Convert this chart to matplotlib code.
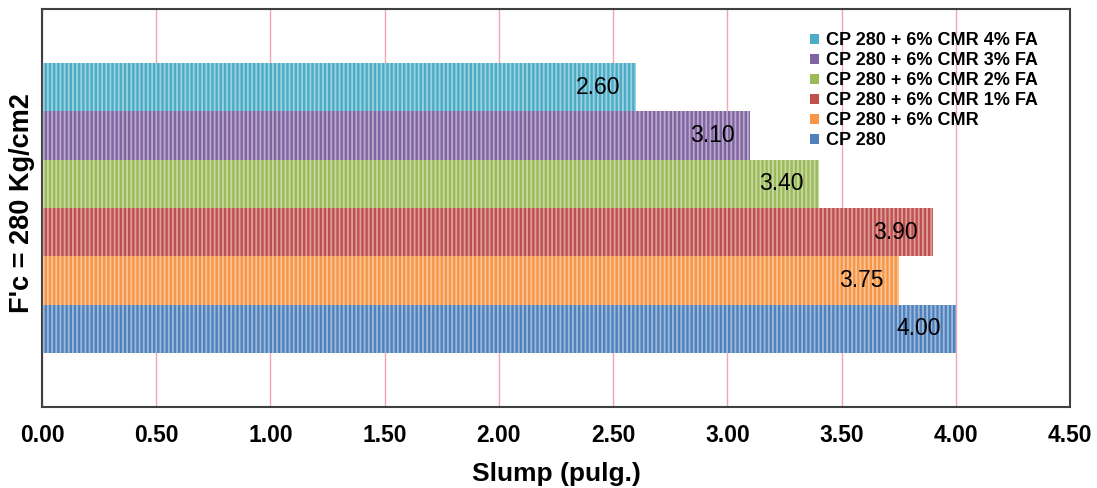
import matplotlib.pyplot as plt
from matplotlib.patches import Patch

plt.rcParams['font.family'] = ['Liberation Sans', 'DejaVu Sans']
plt.rcParams['hatch.linewidth'] = 1.3

# datos (de abajo hacia arriba)
labels = ["CP 280", "CP 280 + 6% CMR", "CP 280 + 6% CMR 1% FA",
          "CP 280 + 6% CMR 2% FA", "CP 280 + 6% CMR 3% FA", "CP 280 + 6% CMR 4% FA"]
slump = [4.00, 3.75, 3.90, 3.40, 3.10, 2.60]
colors = ["#4F81BD", "#F79646", "#C0504D", "#9BBB59", "#8064A2", "#4BACC6"]
xticks = [0.0, 0.5, 1.0, 1.5, 2.0, 2.5, 3.0, 3.5, 4.0, 4.5]

fig = plt.figure(figsize=(10.97, 4.88), dpi=100)
ax = fig.add_axes([0.0383, 0.166, 0.9371, 0.8156])

ypos = list(range(len(slump)))
ax.barh(ypos, slump, height=1.0, color=colors, linewidth=0, zorder=2)
# rayado vertical claro
ax.barh(ypos, slump, height=1.0, color="none", edgecolor=(1, 1, 1, 0.45),
        hatch="||||", linewidth=0, zorder=3)

for y, v in zip(ypos, slump):
    ax.annotate(f"{v:.2f}", xy=(v, y), xytext=(-11, 0), textcoords="offset points",
                ha="right", va="center", fontsize=16.5, color="#000000", zorder=4)

ax.set_xlim(0, 4.5)
ax.set_ylim(-1.617, 6.617)
ax.set_xticks(xticks)
ax.set_xticklabels([f"{t:.2f}" for t in xticks], fontsize=16.5, fontweight="bold")
ax.set_yticks([])
ax.tick_params(axis="x", length=0, pad=12)
ax.xaxis.grid(True, color="#F2A5AE", linewidth=1.0, zorder=0)
ax.set_axisbelow(True)
for s in ax.spines.values():
    s.set_color("#404040")
    s.set_linewidth(1.5)

ax.set_xlabel("Slump (pulg.)", fontsize=19, fontweight="bold", labelpad=11)
ax.set_ylabel("F'c = 280 Kg/cm2", fontsize=19.5, fontweight="bold")
ax.yaxis.set_label_coords(-0.0068, 0.513)

handles = [Patch(facecolor=c, edgecolor="none") for c in colors][::-1]
ax.legend(handles, labels[::-1], loc="upper right", bbox_to_anchor=(0.969, 0.942),
          frameon=False, prop={"weight": "bold", "size": 13},
          handlelength=0.5, handleheight=0.5, handletextpad=0.4, labelspacing=0.17,
          borderaxespad=0, borderpad=0)

fig.savefig("out.png", dpi=100)
